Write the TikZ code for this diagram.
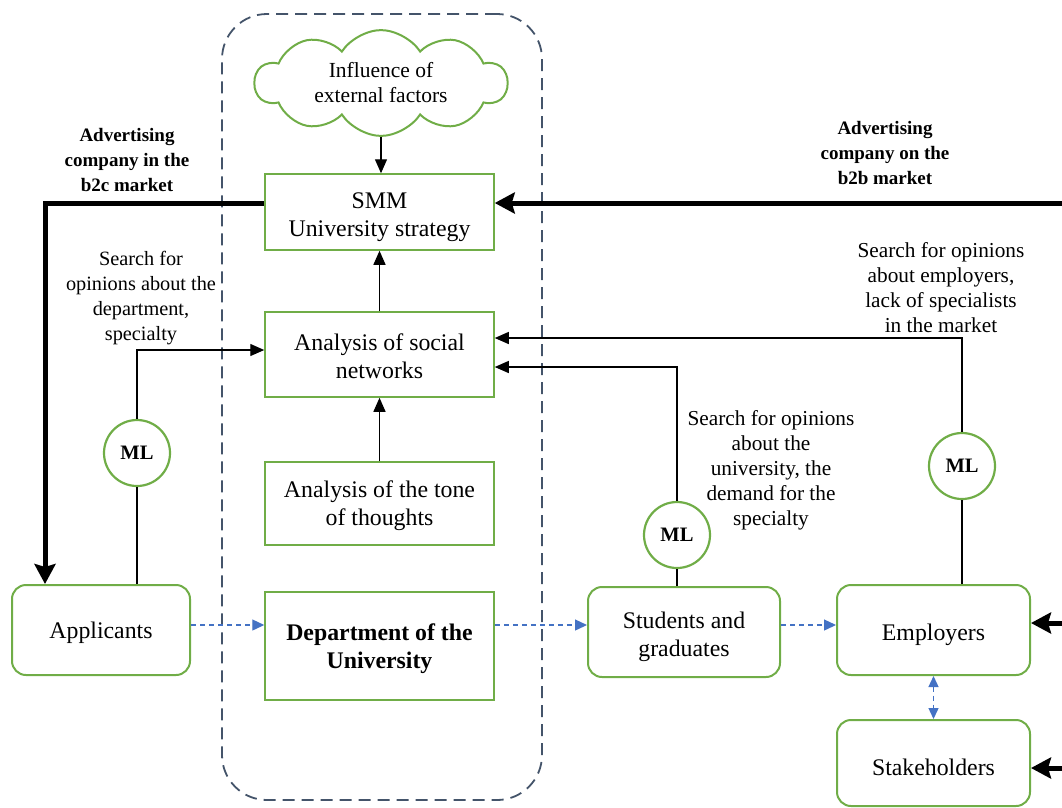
\documentclass[tikz,border=0pt]{standalone}
\usepackage{fontspec}
\setmainfont{Liberation Serif}
\usetikzlibrary{arrows.meta,shapes.symbols}
\definecolor{boxgreen}{RGB}{112,173,71}
\definecolor{framegray}{RGB}{68,84,106}
\definecolor{flowblue}{RGB}{68,114,196}
% invisible strut that lowers the text block inside a box
\newcommand{\lowerstrut}[1]{\rule{0pt}{#1}}
\tikzset{
  mainfont/.style={font=\fontsize{23.8}{28}\selectfont},
  notefont/.style={font=\fontsize{21.3}{25}\selectfont},
  stagebox/.style={draw=boxgreen, line width=1.5pt, rectangle, align=center,
    minimum width=229pt, mainfont},
  actor/.style={draw=boxgreen, line width=2pt, rectangle, rounded corners=14pt,
    align=center, mainfont},
  mlnode/.style={draw=boxgreen, line width=2.2pt, circle, minimum size=66pt,
    inner sep=0pt, font=\fontsize{20.5}{23}\selectfont\bfseries},
  note/.style={align=center, notefont, inner sep=0pt},
  boldnote/.style={align=center, font=\fontsize{19}{25}\selectfont\bfseries, inner sep=0pt},
  link/.style={line width=1.3pt, -{Triangle[length=14pt,width=12pt]}},
  plainlink/.style={line width=1.3pt},
  campaign/.style={line width=5pt, -{Stealth[length=20pt,width=21pt,inset=3pt]}},
  flow/.style={draw=flowblue, line width=1.3pt, dash pattern=on 5pt off 4pt,
    -{Triangle[length=12pt,width=11pt,fill=flowblue]}},
  twoway/.style={draw=flowblue, line width=1.3pt, dash pattern=on 5pt off 4pt,
    {Triangle[length=11pt,width=10pt,fill=flowblue]}-{Triangle[length=11pt,width=10pt,fill=flowblue]}},
}
\begin{document}
\begin{tikzpicture}[x=1pt,y=-1pt]
\useasboundingbox (0,0) rectangle (1062,807);

% University boundary
\node[draw=framegray, line width=1.8pt, dash pattern=on 12pt off 7pt,
  rounded corners=45pt, minimum width=320pt, minimum height=786pt, inner sep=0pt]
  (univ) at (382,407) {};

% Cloud of external factors
\node[cloud, cloud puffs=10, cloud puff arc=115, aspect=2.6, draw=boxgreen,
  line width=2pt, minimum width=252pt, minimum height=92pt, align=center,
  font=\fontsize{21.5}{25}\selectfont] (ext) at (381,83) {Influence of\\external factors};

% Stages inside the university
\node[stagebox, minimum height=76pt] (smm) at (379.5,212) {\lowerstrut{27pt}SMM\\University strategy};
\node[stagebox, minimum height=85pt] (soc) at (379.5,354.5) {\lowerstrut{21pt}Analysis of social\\networks};
\node[stagebox, minimum height=83pt] (tone) at (379.5,503.5) {\lowerstrut{22pt}Analysis of the tone\\of thoughts};
\node[stagebox, minimum height=108pt, font=\fontsize{23.8}{28}\selectfont\bfseries] (dept) at (379.5,646) {\lowerstrut{23pt}Department of the\\University};

% Actors
\node[actor, minimum width=178pt, minimum height=90pt] (app) at (101,630) {\lowerstrut{23pt}Applicants};
\node[actor, minimum width=192pt, minimum height=90pt] (stu) at (684,632) {\lowerstrut{26pt}Students and\\graduates};
\node[actor, minimum width=193pt, minimum height=90pt] (emp) at (933.5,630) {\lowerstrut{26pt}Employers};
\node[actor, minimum width=193pt, minimum height=86pt] (stk) at (933.5,763) {\lowerstrut{26pt}Stakeholders};

% Machine-learning filters
\node[mlnode] (ml1) at (137,453) {ML};
\node[mlnode] (ml2) at (677,535) {ML};
\node[mlnode] (ml3) at (962,466) {ML};

% Labels
\node[boldnote] (b2c) at (127,160) {Advertising\\company in the\\b2c market};
\node[boldnote] (b2b) at (885,153) {Advertising\\company on the\\b2b market};
\node[note, font=\fontsize{20.3}{25}\selectfont] (qapp) at (141,298) {Search for\\opinions about the\\department,\\specialty};
\node[note] (qemp) at (941,287.5) {Search for opinions\\about employers,\\lack of specialists\\in the market};
\node[note] (qstu) at (771,470.5) {Search for opinions\\about the\\university, the\\demand for the\\specialty};

% Vertical chain
\draw[link] (ext.south) -- (ext.south |- smm.north);
\draw[link] (soc.north) -- (smm.south);
\draw[link] (tone.north) -- (soc.south);

% Opinion search through ML
\draw[plainlink] (ml1 |- app.north) -- (ml1.south);
\draw[link] (ml1.north) |- ([yshift=4.5pt]soc.west);
\draw[plainlink] (ml2 |- stu.north) -- (ml2.south);
\draw[link] (ml2.north) |- ([yshift=-12.5pt]soc.east);
\draw[plainlink] (ml3 |- emp.north) -- (ml3.south);
\draw[link] (ml3.north) |- ([yshift=16.5pt]soc.east);

% Advertising campaigns
\draw[campaign] ([yshift=9pt]smm.west) -| ([xshift=-56pt]app.north);
\coordinate (b2bin) at (1062,203);
\draw[campaign] (b2bin) -- (b2bin -| smm.east);
\coordinate (empin) at (1062,623);
\draw[campaign] (empin) -- (empin -| emp.east);
\coordinate (stkin) at (1062,768);
\draw[campaign] (stkin) -- (stkin -| stk.east);

% Flow of people
\coordinate (line) at (0,625);
\draw[flow] (line -| app.east) -- (line -| dept.west);
\draw[flow] (line -| dept.east) -- (line -| stu.west);
\draw[flow] (line -| stu.east) -- (line -| emp.west);
\draw[twoway] (emp.south) -- (stk.north);
\end{tikzpicture}
\end{document}
